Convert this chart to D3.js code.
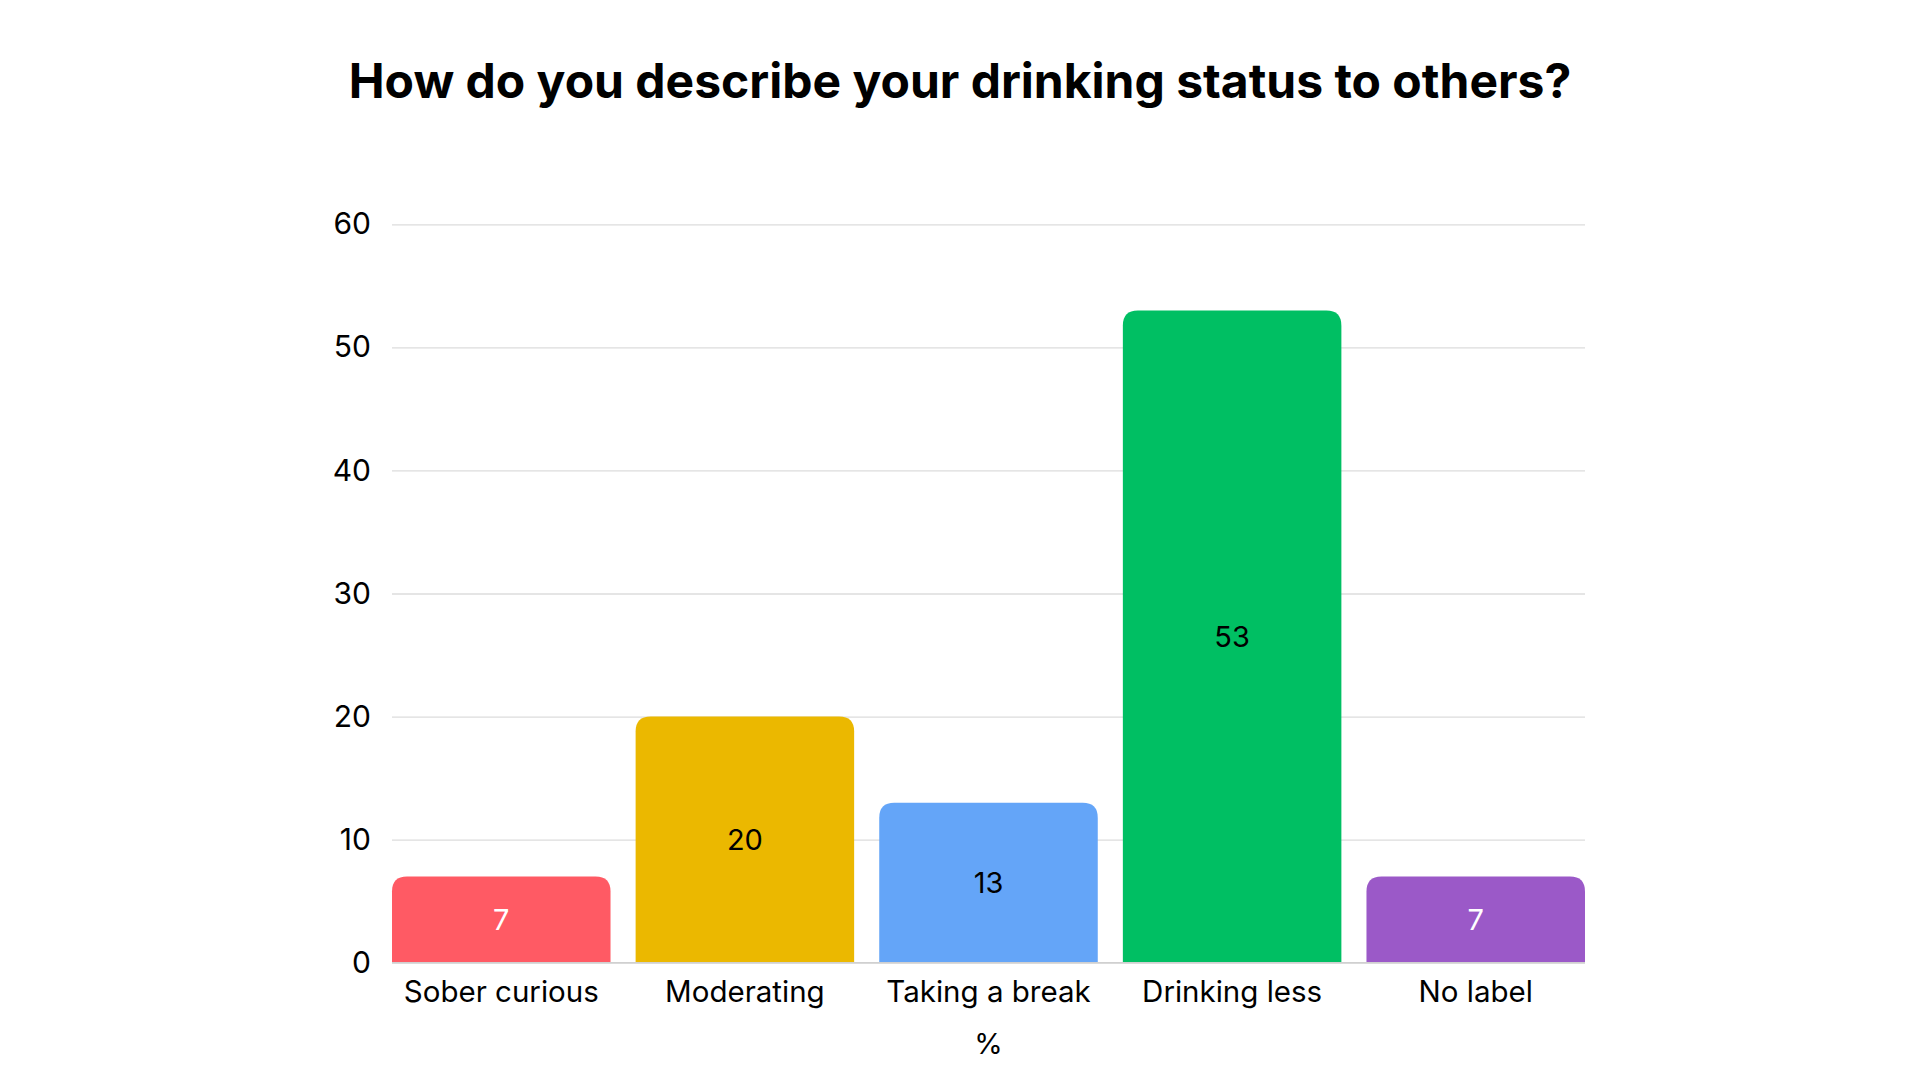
<!DOCTYPE html>
<html>
<head>
<meta charset="utf-8">
<script src="https://cdn.jsdelivr.net/npm/d3@7"></script>
<style>
  html, body { margin: 0; padding: 0; background: #ffffff; }
  svg { display: block; }
</style>
</head>
<body>
<svg id="chart" width="1920" height="1080"></svg>
<script>
const title = "How do you describe your drinking status to others?";
const categories = ["Sober curious", "Moderating", "Taking a break", "Drinking less", "No label"];
const values = [7, 20, 13, 53, 7];
const barColors = ["#FF5A64", "#EBB800", "#64A5F8", "#00BF63", "#9B59C8"];
const labelColors = ["#ffffff", "#000000", "#000000", "#000000", "#ffffff"];
const yTicks = [0, 10, 20, 30, 40, 50, 60];
const xAxisTitle = "%";

const svg = d3.select("#chart");
const margin = { left: 392, right: 1920 - 1585, top: 224.3, bottom: 1080 - 962.7 };
const W = 1920, H = 1080;
const font = "Inter, 'Noto Sans', sans-serif";

const x = d3.scaleBand().domain(categories)
  .range([margin.left, W - margin.right])
  .paddingInner(0.103).paddingOuter(0);
const y = d3.scaleLinear().domain([0, 60]).range([H - margin.bottom, margin.top]);

// title
svg.append("text")
  .attr("x", 960).attr("y", 98)
  .attr("text-anchor", "middle")
  .attr("font-family", font)
  .attr("font-weight", 700)
  .attr("font-size", 48)
  .attr("fill", "#000")
  .text(title);

// gridlines
const yAxis = d3.axisLeft(y).tickValues(yTicks).tickSize(-(W - margin.left - margin.right)).tickPadding(21);
const gy = svg.append("g").attr("transform", `translate(${margin.left},0)`).call(yAxis);
gy.select(".domain").remove();
gy.selectAll(".tick line").attr("stroke", "#dcdcdc").attr("stroke-width", 1.3);
gy.selectAll(".tick text")
  .attr("font-family", font).attr("font-size", 30).attr("fill", "#000");

// bars with rounded top corners
const r = 15;
function barPath(x0, w, yTop, yBase) {
  const rr = Math.min(r, (yBase - yTop), w / 2);
  return `M${x0},${yBase} L${x0},${yTop + rr} Q${x0},${yTop} ${x0 + rr},${yTop} L${x0 + w - rr},${yTop} Q${x0 + w},${yTop} ${x0 + w},${yTop + rr} L${x0 + w},${yBase} Z`;
}
const data = categories.map((c, i) => ({ c, v: values[i], col: barColors[i], lc: labelColors[i] }));

svg.append("g").selectAll("path").data(data).join("path")
  .attr("d", d => barPath(x(d.c), x.bandwidth(), y(d.v), y(0)))
  .attr("fill", d => d.col);

// baseline
svg.append("line")
  .attr("x1", margin.left).attr("x2", W - margin.right)
  .attr("y1", y(0)).attr("y2", y(0))
  .attr("stroke", "#d0d0d0").attr("stroke-width", 1.5);

// value labels
svg.append("g").selectAll("text").data(data).join("text")
  .attr("x", d => x(d.c) + x.bandwidth() / 2)
  .attr("y", d => (y(d.v) + y(0)) / 2)
  .attr("dy", "0.36em")
  .attr("text-anchor", "middle")
  .attr("font-family", font).attr("font-size", 29)
  .attr("fill", d => d.lc)
  .text(d => d.v);

// x axis labels
const xAxis = d3.axisBottom(x).tickSize(0).tickPadding(18);
const gx = svg.append("g").attr("transform", `translate(0,${y(0)})`).call(xAxis);
gx.select(".domain").remove();
gx.selectAll(".tick text").attr("font-family", font).attr("font-size", 29.5).attr("fill", "#000");

// x axis title
svg.append("text")
  .attr("x", (margin.left + W - margin.right) / 2).attr("y", 1054)
  .attr("text-anchor", "middle")
  .attr("font-family", font).attr("font-size", 29).attr("fill", "#000")
  .text(xAxisTitle);
</script>
</body>
</html>
